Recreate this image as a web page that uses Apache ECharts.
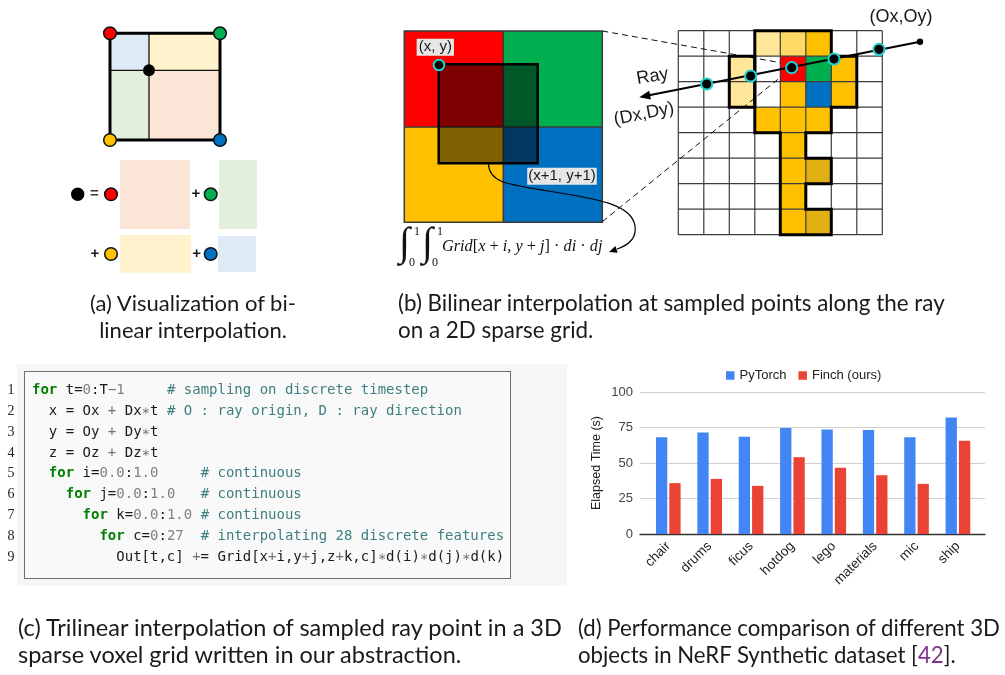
<!DOCTYPE html>
<html>
<head>
<meta charset="utf-8">
<script src="https://cdn.jsdelivr.net/npm/echarts@6/dist/echarts.min.js"></script>
<style>
html, body { margin: 0; padding: 0; background: #fff; }
#wrap { position: relative; width: 1005px; height: 675px; overflow: hidden; }
#main { position: absolute; left: 0; top: 0; width: 1005px; height: 675px; }
.cap { position: absolute; font-family: Lato, 'Noto Sans', sans-serif; font-size: 20px; color: #1a1a1a; white-space: nowrap; line-height: 27px; }
#codebg { position: absolute; left: 17px; top: 364px; width: 550px; height: 222px; background: #f6f6f6; }
#codebox { position: absolute; left: 24px; top: 371px; width: 485px; height: 206px; border: 1px solid #6f6f6f; background: #f9f9f9; }
.ln { position: absolute; left: 0; width: 22px; text-align: center; font-family: 'Liberation Serif', serif; font-size: 14px; color: #222; line-height: 21px; }
.cl { position: absolute; left: 32px; font-family: 'DejaVu Sans Mono', monospace; font-size: 14px; color: #1a1a1a; white-space: pre; line-height: 21px; }
.k { color: #008000; font-weight: bold; }
.c { color: #3d7f7f; }
.n { color: #808080; }
.o { color: #707070; }
.fm { position: absolute; font-family: 'Liberation Serif', serif; color: #111; white-space: nowrap; }
</style>
</head>
<body>
<div id="wrap">
  <div id="main"></div>
  <div id="codebg"></div>
  <div id="codebox"></div>
  <div id="code"></div>
  <div id="formula">
    <span class="fm" style="left:399px;top:219px;font-size:40px;line-height:46px;font-style:italic;">∫</span>
    <span class="fm" style="left:414px;top:225px;font-size:12px;line-height:12px;">1</span>
    <span class="fm" style="left:409px;top:256px;font-size:12px;line-height:12px;">0</span>
    <span class="fm" style="left:422px;top:219px;font-size:40px;line-height:46px;font-style:italic;">∫</span>
    <span class="fm" style="left:437px;top:225px;font-size:12px;line-height:12px;">1</span>
    <span class="fm" style="left:432px;top:256px;font-size:12px;line-height:12px;">0</span>
    <span class="fm" style="left:442px;top:236px;font-size:16.3px;line-height:20px;"><i>Grid</i>[<i>x</i> + <i>i</i>, <i>y</i> + <i>j</i>] · <i>di</i> · <i>dj</i></span>
  </div>
  <div id="caps"></div>
</div>
<script>
// ---- chart data (panel d) ----
const objects = ['chair', 'drums', 'ficus', 'hotdog', 'lego', 'materials', 'mic', 'ship'];
const pytorchTime = [68.2, 71.5, 68.5, 74.6, 73.6, 73.2, 68.2, 82.1];
const finchTime = [35.8, 38.8, 33.9, 54.1, 46.6, 41.4, 35.3, 65.6];
const yTicks = [0, 25, 50, 75, 100];

// ---- diagram layout (panels a, b) ----
const voxelCells = [
  [3, 0, '#FFE699'], [4, 0, '#FFD966'], [5, 0, '#FFC000'],
  [2, 1, '#FFE699'], [4, 1, '#FF0000'], [5, 1, '#00B050'], [6, 1, '#FFC000'],
  [2, 2, '#FFE699'], [4, 2, '#FFC000'], [5, 2, '#0070C0'], [6, 2, '#FFC000'],
  [3, 3, '#FFC000'], [4, 3, '#FFC000'], [5, 3, '#FFC000'],
  [4, 4, '#FFC000'], [4, 5, '#FFC000'], [5, 5, '#E0B012'],
  [4, 6, '#FFC000'], [4, 7, '#FFC000'], [5, 7, '#E0B012']
];
const keyOutline = [[3,0],[6,0],[6,1],[7,1],[7,3],[6,3],[6,4],[5,4],[5,5],[6,5],[6,6],[5,6],[5,7],[6,7],[6,8],[4,8],[4,4],[3,4]];
const samplePoints = [[706.7, 84], [750.7, 76], [791.7, 67.7], [834, 59], [879, 49.3]];

const codeLines = [
  '<span class="k">for</span> t=<span class="n">0</span>:T<span class="o">−</span><span class="n">1</span>     <span class="c"># sampling on discrete timestep</span>',
  '  x = Ox <span class="o">+</span> Dx<span class="o">∗</span>t <span class="c"># O : ray origin, D : ray direction</span>',
  '  y = Oy <span class="o">+</span> Dy<span class="o">∗</span>t',
  '  z = Oz <span class="o">+</span> Dz<span class="o">∗</span>t',
  '  <span class="k">for</span> i=<span class="n">0.0</span>:<span class="n">1.0</span>     <span class="c"># continuous</span>',
  '    <span class="k">for</span> j=<span class="n">0.0</span>:<span class="n">1.0</span>   <span class="c"># continuous</span>',
  '      <span class="k">for</span> k=<span class="n">0.0</span>:<span class="n">1.0</span> <span class="c"># continuous</span>',
  '        <span class="k">for</span> c=<span class="n">0</span>:<span class="n">27</span>  <span class="c"># interpolating 28 discrete features</span>',
  '          Out[t,c] <span class="o">+</span>= Grid[x<span class="o">+</span>i,y<span class="o">+</span>j,z<span class="o">+</span>k,c]<span class="o">∗</span>d(i)<span class="o">∗</span>d(j)<span class="o">∗</span>d(k)'
];

const captions = [
  { lines: ['(a) Visualization of bi-', 'linear interpolation.'], x: 193, w: 206, top: 289, center: true },
  { lines: ['(b) Bilinear interpolation at sampled points along the ray', 'on a 2D sparse grid.'], x: 398, w: 547, top: 289 },
  { lines: ['(c) Trilinear interpolation of sampled ray point in a 3D', 'sparse voxel grid written in our abstraction.'], x: 18, w: 544, top: 614 },
  { lines: ['(d) Performance comparison of different 3D', 'objects in NeRF Synthetic dataset [<span style="color:#80308f">42</span>].'], x: 578, w: 422, top: 614 }
];

// code block
const codeEl = document.getElementById('code');
codeLines.forEach(function (html, i) {
  const top = 379 + i * 20.85;
  const n = document.createElement('div');
  n.className = 'ln'; n.style.top = top + 'px'; n.textContent = String(i + 1);
  codeEl.appendChild(n);
  const l = document.createElement('div');
  l.className = 'cl'; l.style.top = top + 'px'; l.innerHTML = html;
  codeEl.appendChild(l);
});

// captions, font sized so the first line fills its measured width
const capsEl = document.getElementById('caps');
captions.forEach(function (cap) {
  const els = cap.lines.map(function (html, i) {
    const d = document.createElement('div');
    d.className = 'cap'; d.innerHTML = html;
    d.style.top = (cap.top + i * 27) + 'px';
    d.style.left = cap.x + 'px';
    capsEl.appendChild(d);
    return d;
  });
  const w0 = els[0].getBoundingClientRect().width;
  const fs = 20 * cap.w / w0;
  els.forEach(function (d) {
    d.style.fontSize = fs + 'px';
    if (cap.center) {
      const w = d.getBoundingClientRect().width;
      d.style.left = (cap.x - w / 2) + 'px';
    }
  });
});

// ---- graphic helpers ----
const G = [];
let zc = 1;
function rect(x, y, w, h, fill, stroke, lw) {
  G.push({ type: 'rect', z: zc++, shape: { x: x, y: y, width: w, height: h }, style: { fill: fill || 'none', stroke: stroke || 'none', lineWidth: lw || 0 } });
}
function line(x1, y1, x2, y2, stroke, lw, dash) {
  G.push({ type: 'line', z: zc++, shape: { x1: x1, y1: y1, x2: x2, y2: y2 }, style: { stroke: stroke, lineWidth: lw, lineDash: dash || null } });
}
function circle(cx, cy, r, fill, stroke, lw) {
  G.push({ type: 'circle', z: zc++, shape: { cx: cx, cy: cy, r: r }, style: { fill: fill, stroke: stroke || 'none', lineWidth: lw || 0 } });
}
function poly(points, fill, stroke, lw) {
  G.push({ type: 'polygon', z: zc++, shape: { points: points }, style: { fill: fill || 'none', stroke: stroke || 'none', lineWidth: lw || 0, lineJoin: 'miter' } });
}
function curve(x1, y1, c1x, c1y, c2x, c2y, x2, y2) {
  G.push({ type: 'bezierCurve', z: zc++, shape: { x1: x1, y1: y1, cpx1: c1x, cpy1: c1y, cpx2: c2x, cpy2: c2y, x2: x2, y2: y2 }, style: { fill: 'none', stroke: '#000', lineWidth: 1.2 } });
}
function text(x, y, str, font, extra, rotation) {
  const style = Object.assign({ text: str, font: font, fill: '#1a1a1a', align: 'center', verticalAlign: 'middle' }, extra || {});
  G.push({ type: 'text', z: zc++, x: x, y: y, rotation: rotation || 0, style: style });
}
function arrowHead(tipX, tipY, fromX, fromY, len, half) {
  const dx = fromX - tipX, dy = fromY - tipY, d = Math.sqrt(dx * dx + dy * dy);
  const ux = dx / d, uy = dy / d, bx = tipX + ux * len, by = tipY + uy * len;
  poly([[tipX, tipY], [bx - uy * half, by + ux * half], [bx + uy * half, by - ux * half]], '#000');
}

// ---- panel (a) ----
const aL = 110, aR = 220, aT = 33.3, aB = 140, aX = 149, aY = 70.3;
rect(aL, aT, aX - aL, aY - aT, '#DEEBF7');
rect(aX, aT, aR - aX, aY - aT, '#FFF2CC');
rect(aL, aY, aX - aL, aB - aY, '#E2EFDA');
rect(aX, aY, aR - aX, aB - aY, '#FBE5D6');
line(aX, aT, aX, aB, '#111', 1.3);
line(aL, aY, aR, aY, '#111', 1.3);
rect(aL, aT, aR - aL, aB - aT, null, '#000', 3);
circle(aL, aT, 6.3, '#FF0000', '#111', 1.5);
circle(aR, aT, 6.3, '#00B050', '#111', 1.5);
circle(aL, aB, 6.3, '#FFC000', '#111', 1.5);
circle(aR, aB, 6.3, '#0070C0', '#111', 1.5);
circle(aX, aY, 6, '#000');
circle(77.7, 194.3, 6.7, '#000');
text(94.3, 194.3, '=', 'bold 15px Liberation Sans', { fill: '#333' });
circle(111, 194.3, 6.3, '#FF0000', '#111', 1.5);
rect(120, 160, 70, 69, '#FBE5D6');
text(196, 194.3, '+', 'bold 15px Liberation Sans');
circle(210.7, 194.3, 6.3, '#00B050', '#111', 1.5);
rect(219, 160, 38, 69, '#E2EFDA');
text(95, 254, '+', 'bold 15px Liberation Sans');
circle(111, 254, 6.3, '#FFC000', '#111', 1.5);
rect(120, 235, 71, 37.7, '#FFF2CC');
text(196.7, 254, '+', 'bold 15px Liberation Sans');
circle(210.7, 254, 6.3, '#0070C0', '#111', 1.5);
rect(218, 236, 38, 36, '#DEEBF7');

// ---- panel (b), left square ----
const bL = 404.3, bR = 602.3, bT = 31, bB = 222.3, bX = 503.3, bY = 127;
rect(bL, bT, bX - bL, bY - bT, '#FF0000');
rect(bX, bT, bR - bX, bY - bT, '#00B050');
rect(bL, bY, bX - bL, bB - bY, '#FFC000');
rect(bX, bY, bR - bX, bB - bY, '#0070C0');
line(bX, bT, bX, bB, '#3a3a3a', 1.5);
line(bL, bY, bR, bY, '#3a3a3a', 1.5);
rect(bL, bT, bR - bL, bB - bT, null, '#3a3a3a', 1.5);
rect(438.7, 64.3, 99, 99, 'rgba(0,0,0,0.5)', '#000', 2.5);
text(435.3, 47.3, '(x, y)', '15px Liberation Sans', { backgroundColor: '#E6E6E6', padding: [1, 2, 1, 2] });
circle(439, 65, 5.3, '#000', '#22D0D0', 2);
text(562, 176.3, '(x+1, y+1)', '15px Liberation Sans', { backgroundColor: '#E6E6E6', padding: [1, 1, 1, 1] });
curve(488.3, 163.3, 489, 182, 505, 184, 548, 191);
curve(548, 191, 600, 199, 632, 205, 635, 226);
curve(635, 226, 637, 240, 626, 246, 617, 249);
arrowHead(609, 252, 619, 248.5, 8, 3.5);

// ---- panel (b), voxel grid ----
const gX = 678.3, gY = 30.7, cs = 25.5, nCell = 8;
voxelCells.forEach(function (c) { rect(gX + c[0] * cs, gY + c[1] * cs, cs, cs, c[2]); });
for (let i = 0; i <= nCell; i++) {
  line(gX + i * cs, gY, gX + i * cs, gY + nCell * cs, '#3c3c3c', 1.2);
  line(gX, gY + i * cs, gX + nCell * cs, gY + i * cs, '#3c3c3c', 1.2);
}
line(bR, bT, 780, 62.6, '#111', 1, [6, 4]);
line(bR, bB - 0.6, 780, 77.6, '#111', 1, [6, 4]);
poly(keyOutline.map(function (p) { return [gX + p[0] * cs, gY + p[1] * cs]; }), null, '#000', 3);
rect(gX + 2 * cs, gY + cs, cs, 2 * cs, null, '#000', 3);

// ray
const oX = 920, oY = 41.7, tipX = 639.3, tipY = 97.3;
line(oX, oY, tipX + 6, tipY - 1.2, '#000', 2);
arrowHead(tipX, tipY, oX, oY, 11, 4.5);
circle(oX, oY, 3.2, '#000');
samplePoints.forEach(function (p) { circle(p[0], p[1], 5.6, '#000', '#22D0D0', 2); });
text(901, 17.5, '(Ox,Oy)', '18px Liberation Sans');
text(652.5, 76.5, 'Ray', '18px Liberation Sans', null, 0.17);
text(644, 114, '(Dx,Dy)', '18px Liberation Sans', null, 0.2);

// ---- chart ----
const chart = echarts.init(document.getElementById('main'));
const option = {
  animation: false,
  textStyle: { fontFamily: 'Liberation Sans, Arial, sans-serif' },
  graphic: { elements: G },
  legend: {
    data: ['PyTorch', 'Finch (ours)'],
    left: 726, top: 369, padding: 0,
    itemWidth: 8.5, itemHeight: 8.5, itemGap: 12, icon: 'rect',
    textStyle: { fontSize: 13, color: '#222' }
  },
  grid: [
    { left: 640, top: 392, width: 345, height: 142 },
    { left: 647.6, top: 392, width: 331, height: 142 }
  ],
  xAxis: [
    { gridIndex: 0, type: 'value', min: 0, max: 1,
      axisLine: { show: true, lineStyle: { color: '#333', width: 1.3 } },
      axisTick: { show: false }, axisLabel: { show: false }, splitLine: { show: false } },
    { gridIndex: 1, type: 'category', data: objects,
      axisLine: { show: false }, axisTick: { show: false },
      axisLabel: { rotate: 45, fontSize: 13.5, color: '#222', margin: 10, interval: 0 } }
  ],
  yAxis: [
    { gridIndex: 0, type: 'value', min: yTicks[0], max: yTicks[yTicks.length - 1], interval: yTicks[1] - yTicks[0],
      name: 'Elapsed Time (s)', nameLocation: 'middle', nameGap: 37,
      nameTextStyle: { fontSize: 12.5, color: '#222' },
      axisLine: { show: false }, axisTick: { show: false },
      axisLabel: { fontSize: 13, color: '#444', margin: 7 },
      splitLine: { lineStyle: { color: '#d0d0d0', width: 1 } } },
    { gridIndex: 1, type: 'value', min: yTicks[0], max: yTicks[yTicks.length - 1], show: false }
  ],
  series: [
    { name: 'PyTorch', type: 'bar', xAxisIndex: 1, yAxisIndex: 1, data: pytorchTime,
      barWidth: 11.3, barGap: '18%', itemStyle: { color: '#4285F4' } },
    { name: 'Finch (ours)', type: 'bar', xAxisIndex: 1, yAxisIndex: 1, data: finchTime,
      barWidth: 11.3, barGap: '18%', itemStyle: { color: '#EA4335' } }
  ]
};
chart.setOption(option);
</script>
</body>
</html>
